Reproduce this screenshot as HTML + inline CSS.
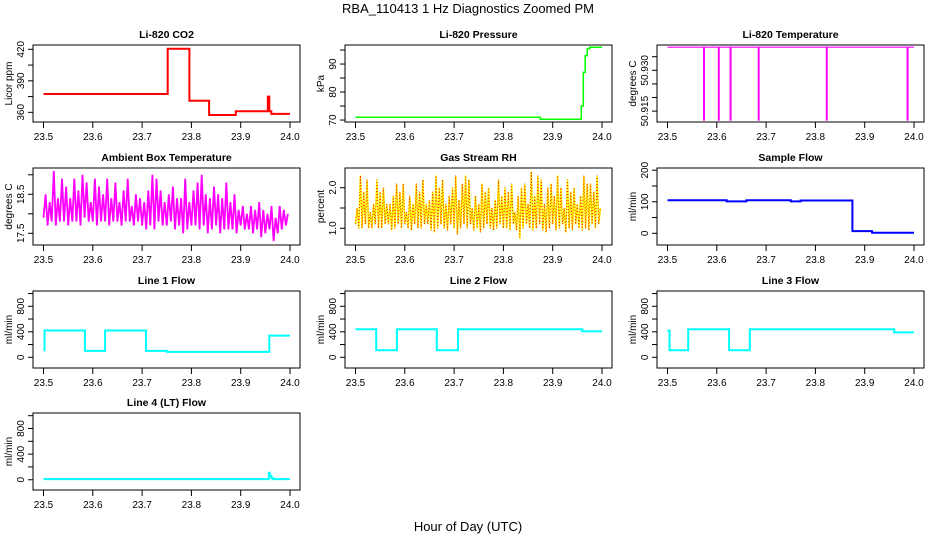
<!DOCTYPE html>
<html><head><meta charset="utf-8"><style>
html,body{margin:0;padding:0;background:#fff;}
svg{display:block;font-family:"Liberation Sans",sans-serif;}
</style></head><body>
<svg id="c" width="936" height="540" viewBox="0 0 936 540">
<text x="468" y="13" font-size="13" text-anchor="middle">RBA_110413  1 Hz Diagnostics Zoomed PM</text>
<text x="468" y="531" font-size="13" text-anchor="middle">Hour of Day (UTC)</text>
</svg>
<script>
// ---- data ----
const xTicks = [23.5,23.6,23.7,23.8,23.9,24.0];
const xTickLabels = ["23.5","23.6","23.7","23.8","23.9","24.0"];
const co2T = [23.5,23.752,23.796,23.836,23.89,23.955,23.958,23.962];
const co2V = [377.5,420.5,371,357.5,361,375,361,358.5];
const presT = [23.5,23.875,23.958,23.962,23.966,23.970,23.975];
const presV = [71,70.3,75,87,93,95.5,96];
const tempBase = 50.9385;
const tempSpikeT = [23.574,23.604,23.628,23.685,23.823,23.987];
const tempSpikeMin = [50.9115,50.9115,50.9115,50.9115,50.9115,50.9115];
const ambHigh = [18.5,18.3,19.1,18.4,18.9,18.7,18.4,18.9,18.6,19.0,18.8,18.3,18.9,18.7,18.5,18.9,18.4,18.8,18.3,18.6,18.9,18.2,18.5,18.4,18.3,18.6,19.0,18.9,18.6,18.3,18.5,18.7,18.4,18.4,18.9,18.3,18.6,18.8,19.0,18.5,18.4,18.7,18.5,18.4,18.8,18.3,18.5,18.1,18.2,18.0,18.2,18.1,18.3,18.1,18.0,18.2,17.9,18.2,18.1,18.0];
const ambLow = [17.9,17.7,17.8,17.7,17.8,17.8,17.7,17.8,17.8,17.7,17.9,17.8,17.8,17.7,17.8,17.8,17.7,17.8,17.8,17.7,17.8,17.8,17.7,17.8,17.7,17.6,17.7,17.6,17.8,17.7,17.7,17.8,17.6,17.7,17.5,17.6,17.7,17.7,17.6,17.7,17.5,17.6,17.7,17.5,17.6,17.6,17.6,17.5,17.7,17.6,17.6,17.5,17.6,17.4,17.5,17.6,17.3,17.5,17.6,17.7];
const rhHigh = [1.5,2.3,1.9,2.2,1.4,1.6,2.2,1.9,2.0,1.6,1.6,1.8,2.1,1.9,2.1,1.4,1.8,1.6,2.1,1.9,2.2,1.6,1.7,1.9,2.3,2.0,2.2,1.6,1.8,2.0,2.3,1.7,2.1,2.3,2.2,1.5,1.8,1.6,2.1,1.9,2.0,1.5,1.7,2.2,1.8,2.0,1.9,2.1,1.4,1.8,2.0,2.1,1.6,2.4,1.8,2.3,2.2,1.6,2.0,2.1,1.8,2.3,2.0,1.5,2.2,1.9,2.0,1.6,1.8,2.3,2.1,2.1,1.9,2.3,1.5];
const rhLow = [1.1,1.0,1.0,1.1,1.0,1.0,1.1,1.0,1.0,1.1,1.1,0.95,1.0,1.1,1.0,1.1,1.0,0.95,1.1,1.0,1.0,1.1,1.1,0.95,0.9,1.0,1.1,1.0,0.95,1.1,1.0,0.85,1.0,1.1,1.0,1.1,0.95,1.0,0.9,1.0,1.1,1.0,0.95,1.0,1.1,1.0,1.0,0.95,1.1,0.95,0.75,1.0,1.1,1.0,0.95,1.0,1.1,0.95,0.9,1.0,1.1,0.95,1.0,1.1,0.9,1.0,0.95,1.1,1.0,0.95,1.0,0.95,1.1,1.0,1.1];
const sampT = [23.5,23.62,23.66,23.75,23.77,23.875,23.915];
const sampV = [105,101,105,101,104,7,2];
const l1T = [23.5,23.502,23.584,23.625,23.708,23.75,23.958];
const l1V = [110,420,100,420,100,85,340];
const l2T = [23.5,23.542,23.584,23.665,23.708,23.96];
const l2V = [440,110,440,110,440,410];
const l3T = [23.5,23.504,23.542,23.625,23.667,23.96];
const l3V = [420,110,440,110,440,390];
const l4T = [23.5,23.957,23.959,23.962,23.966];
const l4V = [10,110,60,25,10];
const flowTicks = [0,200,400,600,800,1000];
const flowLabels = ["0","","400","","800",""];

// ---- layout ----
const svg = document.getElementById('c');
const NS = 'http://www.w3.org/2000/svg';
const colX = [43.5,355.5,667.5];
const rowY = [45,168,291,413];
const PH = 493, BH = 77;
function el(tag, attrs, parent){const e=document.createElementNS(NS,tag);for(const k in attrs)e.setAttribute(k,attrs[k]);(parent||svg).appendChild(e);return e;}

function panel(key, col, row, title, ylab, ymin, ymax, yt, yl, xlabels){
  const g = el('g',{});
  
  
  const x0 = colX[col], top = rowY[row], bot = top+BH;
  const X = t => x0 + (t-23.5)*PH;
  const Y = v => bot - (v-ymin)/(ymax-ymin)*BH;
  const box = el('rect',{x:x0-10.5,y:top,width:267,height:BH,fill:'none',stroke:'#000','stroke-width':1},g);
  
  
  const tt = el('text',{x:x0+123,y:top-7,'font-size':10.5,'font-weight':'bold','text-anchor':'middle'},g);
  tt.textContent = title;
  
  
  const bl = x0-10.5;
  xTicks.forEach((t,i)=>{
    el('line',{x1:X(t),x2:X(t),y1:bot,y2:bot+6,stroke:'#000'},g);
    if(xlabels){const tx=el('text',{x:X(t),y:bot+18,'font-size':10,'text-anchor':'middle'},g);tx.textContent=xTickLabels[i];
      
      }
  });
  yt.forEach((v,i)=>{
    el('line',{x1:bl-5,x2:bl,y1:Y(v),y2:Y(v),stroke:'#000'},g);
    if(yl[i]){const ty=el('text',{x:0,y:0,'font-size':10,'text-anchor':'middle',transform:`translate(${bl-9},${Y(v)}) rotate(-90)`},g);ty.textContent=yl[i];
      
      }
  });
  const yt2 = el('text',{x:0,y:0,'font-size':10,'text-anchor':'middle',transform:`translate(${bl-21},${(top+bot)/2}) rotate(-90)`},g);
  yt2.textContent = ylab;
  
  
  return {g,X,Y};
}
function step(p, T, V, color, w, name){
  let d='';
  for(let i=0;i<T.length;i++){
    const x=p.X(T[i]), xe=p.X(i<T.length-1?T[i+1]:24.0), y=p.Y(V[i]);
    d += (i===0?'M':'L')+x.toFixed(1)+','+y.toFixed(1)+' L'+xe.toFixed(1)+','+y.toFixed(1)+' ';
  }
  const s = el('path',{d,fill:'none',stroke:color,'stroke-width':w},p.g);
  
  
}
function zig(p, H, L, color, w, name, dash){
  const n=Math.min(H.length,L.length); let d='';
  for(let i=0;i<n;i++){
    const t1=23.5+(i/n)*0.5, t2=23.5+((i+0.5)/n)*0.5;
    d += (i===0?'M':'L')+p.X(t1).toFixed(1)+','+p.Y(L[i]).toFixed(1)+' L'+p.X(t2).toFixed(1)+','+p.Y(H[i]).toFixed(1)+' ';
  }
  const a={d,fill:'none',stroke:color,'stroke-width':w}; if(dash)a['stroke-dasharray']=dash;
  const s=el('path',a,p.g);
  
  
}

// row 1
let p = panel('co2',0,0,'Li-820 CO2','Licor ppm',350.8,424.1,[360,375,390,405,420],['360','','390','','420'],true);
step(p,co2T,co2V,'#ff0000',2,'co2-line');
p = panel('pressure',1,0,'Li-820 Pressure','kPa',69.3,96.8,[70,75,80,85,90,95],['70','','80','','90',''],true);
step(p,presT,presV,'#00ff00',1.5,'pressure-line');
p = panel('li820-temp',2,0,'Li-820 Temperature','degrees C',50.911,50.9393,[50.915,50.92,50.925,50.93,50.935],['50.915','','','50.930',''],true);
{const b=el('line',{x1:p.X(23.5),x2:p.X(24.0),y1:p.Y(tempBase),y2:p.Y(tempBase),stroke:'#ff00ff','stroke-width':1.2},p.g);
 
 
 tempSpikeT.forEach((t,i)=>{const s=el('line',{x1:p.X(t),x2:p.X(t),y1:p.Y(tempBase),y2:p.Y(tempSpikeMin[i]),stroke:'#ff00ff','stroke-width':2},p.g);
  
  });}
// row 2
p = panel('ambient-temp',0,1,'Ambient Box Temperature','degrees C',17.2,19.174,[17.5,18,18.5,19],['17.5','','18.5',''],true);
zig(p,ambHigh,ambLow,'#ff00ff',1.8,'ambient-temp-line');
p = panel('rh',1,1,'Gas Stream RH','percent',0.589,2.485,[1.0,1.5,2.0],['1.0','','2.0'],true);
zig(p,rhHigh,rhLow,'#ffff00',1.6,'rh-line');
zig(p,rhHigh,rhLow,'#ff2000',1,'rh-points','1,2');
p = panel('sample-flow',2,1,'Sample Flow','ml/min',-37,206.9,[0,50,100,150,200],['0','','100','','200'],true);
step(p,sampT,sampV,'#0000ff',2,'sample-flow-line');
// row 3
p = panel('line1',0,2,'Line 1 Flow','ml/min',-168,1040,flowTicks,flowLabels,true);
step(p,l1T,l1V,'#00ffff',2,'line1-flow-line');
p = panel('line2',1,2,'Line 2 Flow','ml/min',-168,1040,flowTicks,flowLabels,true);
step(p,l2T,l2V,'#00ffff',2,'line2-flow-line');
p = panel('line3',2,2,'Line 3 Flow','ml/min',-168,1040,flowTicks,flowLabels,true);
step(p,l3T,l3V,'#00ffff',2,'line3-flow-line');
// row 4
p = panel('line4',0,3,'Line 4 (LT) Flow','ml/min',-160,1042,flowTicks,flowLabels,true);
step(p,l4T,l4V,'#00ffff',2,'line4-flow-line');
</script>
</body></html>
